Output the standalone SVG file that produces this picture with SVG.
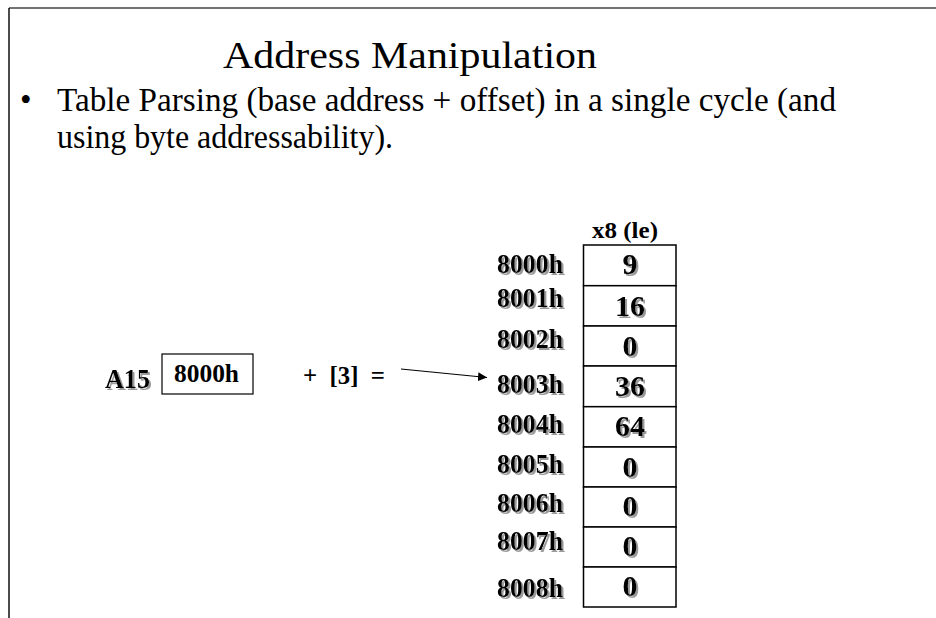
<svg xmlns="http://www.w3.org/2000/svg" width="936" height="618" viewBox="0 0 936 618">
<style>
.t{font-family:"Liberation Serif","Times New Roman",serif;fill:#000}
.b{font-weight:bold}
.lbl{font-size:27px;font-weight:bold}
.val{font-size:30px;font-weight:bold;text-anchor:middle}
.cell{fill:#fff;stroke:#000;stroke-width:1.5}
.sh{filter:url(#shadow)}
</style>
<defs>
<filter id="shadow" x="-10%" y="-10%" width="130%" height="130%">
<feOffset in="SourceAlpha" dx="1.5" dy="1.5" result="o"/>
<feFlood flood-color="#9a9a9a"/>
<feComposite in2="o" operator="in" result="s"/>
<feMerge><feMergeNode in="s"/><feMergeNode in="SourceGraphic"/></feMerge>
</filter>
<marker id="ah" viewBox="0 0 10 10" refX="10" refY="5" markerWidth="9" markerHeight="9" markerUnits="userSpaceOnUse" orient="auto">
<path d="M0,0 L10,5 L0,10 z" fill="#000"/>
</marker>
</defs>
<rect width="936" height="618" fill="#fff"/>
<g id="frame">
<line x1="9" y1="8" x2="936" y2="8" stroke="#444" stroke-width="1.5"/>
<line x1="9" y1="8" x2="9" y2="618" stroke="#111" stroke-width="1.5"/>
</g>
<g id="title">
<text class="t" x="223" y="68" font-size="38" textLength="374" lengthAdjust="spacingAndGlyphs">Address Manipulation</text>
</g>
<g id="bullet">
<text class="t" x="20" y="111" font-size="33">•</text>
<text class="t" x="57" y="111" font-size="33" textLength="779" lengthAdjust="spacingAndGlyphs">Table Parsing (base address + offset) in a single cycle (and</text>
<text class="t" x="57" y="148" font-size="33" textLength="336" lengthAdjust="spacingAndGlyphs">using byte addressability).</text>
</g>
<g id="register">
<text class="t b sh" x="105" y="388" font-size="27" textLength="45" lengthAdjust="spacingAndGlyphs">A15</text>
<rect x="162" y="354" width="91" height="40" fill="#fff" stroke="#000" stroke-width="1.2"/>
<text class="t b" x="174" y="382" font-size="26" textLength="65" lengthAdjust="spacingAndGlyphs">8000h</text>
</g>
<g id="offset">
<text class="t b" x="303" y="384" font-size="25" textLength="82" lengthAdjust="spacingAndGlyphs" xml:space="preserve">+  [3]  =</text>
</g>
<g id="connectors">
<line x1="401" y1="369" x2="487" y2="377.5" stroke="#000" stroke-width="1.2" marker-end="url(#ah)"/>
</g>
<g id="table">
<text class="t b" x="592" y="238" font-size="24" textLength="66" lengthAdjust="spacingAndGlyphs">x8 (le)</text>
<rect class="cell" x="583.5" y="245" width="92.5" height="40.7"/>
<rect class="cell" x="583.5" y="285.7" width="92.5" height="40.3"/>
<rect class="cell" x="583.5" y="326" width="92.5" height="40"/>
<rect class="cell" x="583.5" y="366" width="92.5" height="40.7"/>
<rect class="cell" x="583.5" y="406.7" width="92.5" height="40.3"/>
<rect class="cell" x="583.5" y="447" width="92.5" height="40"/>
<rect class="cell" x="583.5" y="487" width="92.5" height="40"/>
<rect class="cell" x="583.5" y="527" width="92.5" height="40"/>
<rect class="cell" x="583.5" y="567" width="92.5" height="40"/>
</g>
<g id="addresses" class="t lbl sh">
<text x="497" y="273" textLength="66" lengthAdjust="spacingAndGlyphs">8000h</text>
<text x="497" y="307" textLength="66" lengthAdjust="spacingAndGlyphs">8001h</text>
<text x="497" y="348" textLength="66" lengthAdjust="spacingAndGlyphs">8002h</text>
<text x="497" y="393" textLength="66" lengthAdjust="spacingAndGlyphs">8003h</text>
<text x="497" y="433" textLength="66" lengthAdjust="spacingAndGlyphs">8004h</text>
<text x="497" y="473" textLength="66" lengthAdjust="spacingAndGlyphs">8005h</text>
<text x="497" y="512" textLength="66" lengthAdjust="spacingAndGlyphs">8006h</text>
<text x="497" y="550" textLength="66" lengthAdjust="spacingAndGlyphs">8007h</text>
<text x="497" y="597" textLength="66" lengthAdjust="spacingAndGlyphs">8008h</text>
</g>
<g id="values" class="t val sh">
<text x="630" y="274">9</text>
<text x="630" y="316">16</text>
<text x="630" y="356">0</text>
<text x="630" y="396">36</text>
<text x="630" y="436">64</text>
<text x="630" y="477">0</text>
<text x="630" y="516">0</text>
<text x="630" y="556">0</text>
<text x="630" y="596">0</text>
</g>
</svg>
